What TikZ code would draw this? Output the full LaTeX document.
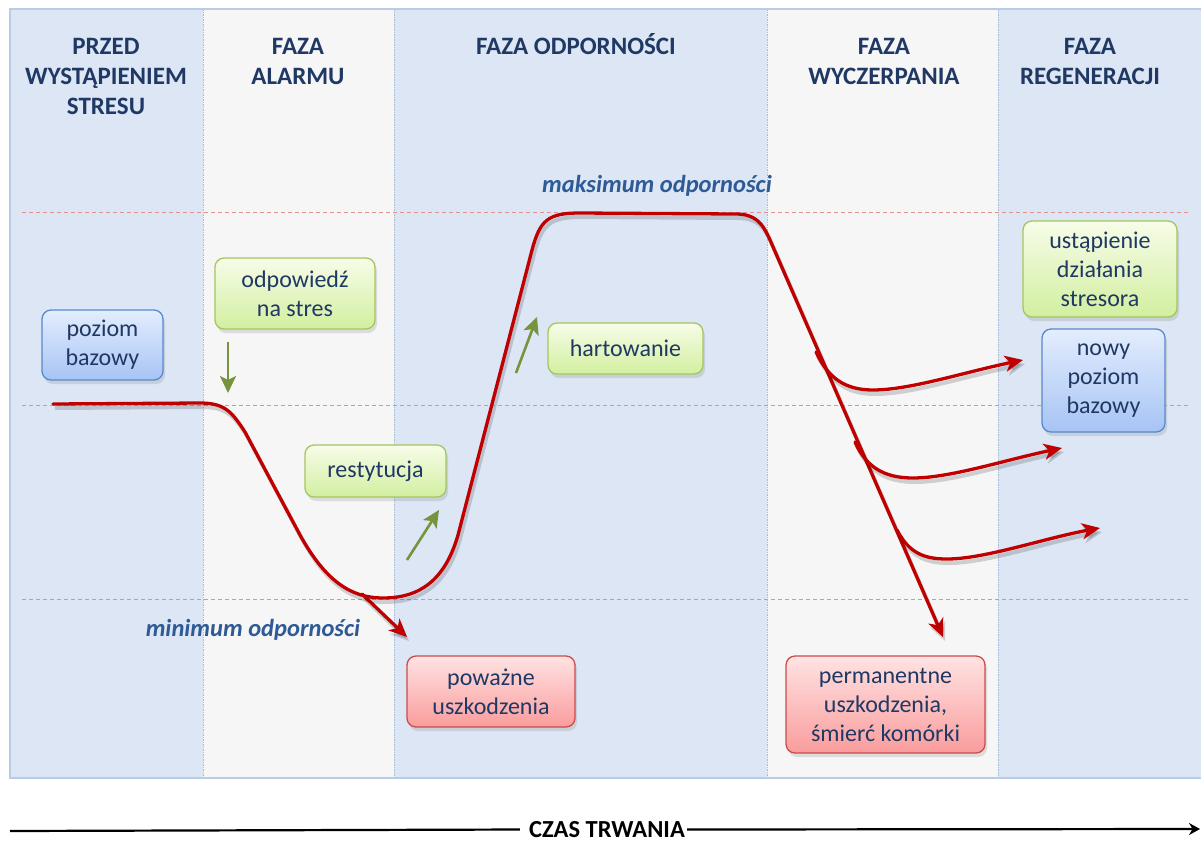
\documentclass[tikz,border=0pt]{standalone}
\usepackage{fontspec}
\setmainfont{Carlito}
\usetikzlibrary{arrows.meta,shadows}
\definecolor{panelblue}{HTML}{DCE6F4}
\definecolor{panelgrey}{HTML}{F6F6F6}
\definecolor{divider}{HTML}{A9BCD6}
\definecolor{frameline}{HTML}{B9CCE4}
\definecolor{navy}{HTML}{1F3864}
\definecolor{labelblue}{HTML}{2E5A96}
\definecolor{curvered}{HTML}{C00000}
\definecolor{reflinecol}{HTML}{E39090}
\definecolor{arrowgreen}{HTML}{77933C}
\definecolor{bluetop}{HTML}{E3EDFD}
\definecolor{bluebot}{HTML}{A7C4F5}
\definecolor{blueedge}{HTML}{5A88CC}
\definecolor{greentop}{HTML}{F7FCE8}
\definecolor{greenbot}{HTML}{D2EFA0}
\definecolor{greenedge}{HTML}{A5C65C}
\definecolor{redtop}{HTML}{FFE3E3}
\definecolor{redbot}{HTML}{FA9C9C}
\definecolor{rededge}{HTML}{CC4B4B}
\begin{document}
\begin{tikzpicture}[x=1pt,y=-1pt,
  every node/.style={font=\fontsize{24}{29}\selectfont, text=navy, align=center},
  header/.style={font=\fontsize{25}{30}\selectfont\bfseries, text=navy, anchor=north, inner sep=0pt},
  philabel/.style={font=\fontsize{24.5}{29}\selectfont\bfseries\itshape, text=labelblue, inner sep=0pt},
  box/.style={rounded corners=9pt, line width=1.3pt, inner sep=0pt,
    drop shadow={shadow xshift=2pt, shadow yshift=-4pt, opacity=0.22}},
  bluebox/.style={box, draw=blueedge, top color=bluetop, bottom color=bluebot},
  greenbox/.style={box, draw=greenedge, top color=greentop, bottom color=greenbot},
  redbox/.style={box, draw=rededge, top color=redtop, bottom color=redbot},
  refline/.style={draw=reflinecol, line width=1pt, dash pattern=on 4pt off 3pt},
  divline/.style={draw=divider, line width=0.7pt, dash pattern=on 1.5pt off 1pt},
  curve/.style={draw=curvered, line width=3.3pt, line cap=round,
    preaction={draw=black, opacity=0.16, line width=4pt, transform canvas={xshift=2pt,yshift=-4pt}}},
  redtip/.style={-{Stealth[length=18pt,width=16pt,inset=5pt]}},
  greenarrow/.style={draw=arrowgreen, line width=2.6pt, -{Stealth[length=17pt,width=16pt,inset=4pt]}},
  axisline/.style={draw=black, line width=2.2pt}
]
\useasboundingbox (0,0) rectangle (1201,844);
% panels
\fill[panelblue] (10,9) rectangle (203,778);
\fill[panelgrey] (203,9) rectangle (394,778);
\fill[panelblue] (394,9) rectangle (767,778);
\fill[panelgrey] (767,9) rectangle (998,778);
\fill[panelblue] (998,9) rectangle (1201,778);
\draw[divline] (203,9) -- (203,778);
\draw[divline] (394,9) -- (394,778);
\draw[divline] (767,9) -- (767,778);
\draw[divline] (998,9) -- (998,778);
\draw[frameline, line width=1.6pt] (1201,9) -- (10,9) -- (10,778) -- (1201,778);
% headers
\node[header] (h1) at (106,33) {\vphantom{Ś}PRZED\\WYSTĄPIENIEM\\STRESU};
\node[header] (h2) at (298,33) {\vphantom{Ś}FAZA\\ALARMU};
\node[header] (h3) at (576,33) {\vphantom{Ś}FAZA ODPORNOŚCI};
\node[header] (h4) at (884,33) {\vphantom{Ś}FAZA\\WYCZERPANIA};
\node[header] (h5) at (1090,33) {\vphantom{Ś}FAZA\\REGENERACJI};
% reference lines
\draw[refline] (22,212) -- (1190,212);
\draw[refline] (22,405) -- (1190,405);
\draw[refline] (22,599) -- (1190,599);
% labels
\node[philabel] (maxlbl) at (657,186) {maksimum odporności};
\node[philabel] (minlbl) at (253,630) {minimum odporności};
% boxes
\node[bluebox, minimum width=121pt, minimum height=70pt] (poziom) at (102.5,345) {poziom\\bazowy};
\node[greenbox, minimum width=160pt, minimum height=71pt] (odp) at (295,293.5) {odpowiedź\\na stres};
\node[greenbox, minimum width=141pt, minimum height=52pt] (rest) at (375.5,471) {restytucja};
\node[greenbox, minimum width=155pt, minimum height=51pt] (hart) at (625.5,348.5) {hartowanie};
\node[greenbox, minimum width=154pt, minimum height=96pt] (ustap) at (1100,269) {ustąpienie\\działania\\stresora};
\node[bluebox, minimum width=123pt, minimum height=103pt] (nowy) at (1103.5,380.5) {nowy\\poziom\\bazowy};
\node[redbox, minimum width=168pt, minimum height=71pt] (powazne) at (491,691.5) {poważne\\uszkodzenia};
\node[redbox, minimum width=199pt, minimum height=97pt] (perm) at (885.5,704.5) {permanentne\\uszkodzenia,\\śmierć komórki};
% coordinates
\coordinate (start) at (53,404);
\coordinate (deathtip) at (943,637);
\coordinate (pwstart) at (362,594);
\coordinate (pwtip) at (407,637);
\coordinate (b1s) at (816,352);
\coordinate (b1t) at (1023,360);
\coordinate (b2s) at (855,442);
\coordinate (b2t) at (1062,448);
\coordinate (b3s) at (897,530);
\coordinate (b3t) at (1100,528);
\coordinate (g1a) at (228,342);
\coordinate (g1b) at (228,393);
\coordinate (g2a) at (407,560);
\coordinate (g2b) at (439,510);
\coordinate (g3a) at (516,373);
\coordinate (g3b) at (537,317);
% green arrows
\draw[greenarrow] (g1a) -- (g1b);
\draw[greenarrow] (g2a) -- (g2b);
\draw[greenarrow] (g3a) -- (g3b);
% red curves
\draw[curve, redtip] (pwstart) -- (pwtip);
\draw[curve, redtip] (start) -- (200,403) .. controls (225,403) and (232,412) .. (245,432)
  -- (300,535) .. controls (325,580) and (350,598) .. (383,598)
  .. controls (420,598) and (445,580) .. (458,535)
  -- (532,250) .. controls (540,220) and (548,213) .. (580,213)
  -- (735,214) .. controls (755,214) and (762,222) .. (770,240) -- (deathtip);
\draw[curve, redtip] (b1s) .. controls (828,378) and (845,390) .. (873,390)
  .. controls (910,390) and (965,372) .. (b1t);
\draw[curve, redtip] (b2s) .. controls (866,467) and (884,478) .. (913,478)
  .. controls (950,478) and (1005,460) .. (b2t);
\draw[curve, redtip] (b3s) .. controls (909,553) and (924,559) .. (947,559)
  .. controls (985,559) and (1045,538) .. (b3t);
% time axis
\node[font=\fontsize{24.5}{29}\selectfont\bfseries, text=black, inner sep=0pt] (czas) at (607,829.5) {CZAS TRWANIA};
\coordinate (axl) at (10,831);
\coordinate (axr) at (1200,829);
\draw[axisline] (axl) -- ([xshift=-9pt]czas.west);
\draw[axisline, -{Stealth[length=11pt,width=12pt]}] ([xshift=2pt]czas.east) -- (axr);
\end{tikzpicture}
\end{document}
